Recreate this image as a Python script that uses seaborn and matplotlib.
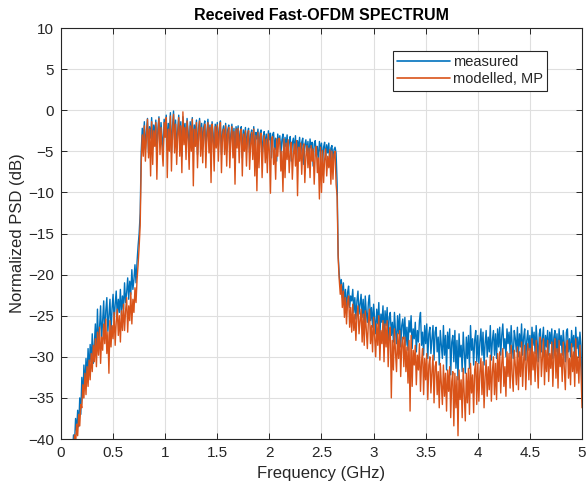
import numpy as np
import pandas as pd
import matplotlib
matplotlib.use("Agg")
import matplotlib.pyplot as plt
import seaborn as sns

measured = [
    -35.8, -48, -48, -48, -48, -48, -48, -48, -48, -48,
    -46, -42, -39.5, -40.5, -37.5, -39, -36.5, -38.5, -35, -37,
    -32.5, -35.0, -31.0, -33.8, -30.2, -32.6, -29.0, -31.8, -28.5, -30.6,
    -27.2, -30.8, -28.5, -26.0, -29.6, -24.2, -28.4, -26.5, -23.8, -27.9,
    -25.6, -23.2, -27.8, -24.4, -22.8, -26.9, -25.0, -23.0, -27.2, -24.1,
    -22.4, -25.8, -23.6, -22.0, -25.2, -23.0, -24.6, -21.8, -25.0, -22.6,
    -24.2, -21.0, -23.4, -22.2, -20.4, -23.0, -20.8, -22.4, -19.4, -21.8,
    -20.6, -18.8, -21.0, -18.4, -16.5, -15.0, -12.5, -5.0, -2.2, -3.6,
    -1.4, -4.8, -2.6, -1.0, -5.2, -2.0, -3.4, -0.9, -4.6, -1.8,
    -3.0, -1.2, -5.6, -2.2, -0.8, -4.0, -1.5, -3.2, -5.0, -1.1,
    -2.4, -0.6, -4.4, -1.6, -3.0, -0.3, -5.2, -2.0, -0.1, -3.6,
    -1.2, -4.8, -2.4, -0.6, -3.8, -1.4, -5.6, -0.8, -2.8, -1.6,
    -4.2, -1.0, -2.6, -5.0, -1.4, -3.4, -0.9, -4.6, -1.8, -2.9,
    -1.2, -5.4, -2.2, -1.0, -3.8, -1.6, -4.4, -2.0, -1.3, -5.0,
    -2.6, -1.1, -3.6, -1.8, -4.8, -1.4, -2.8, -5.2, -1.7, -3.0,
    -1.5, -4.4, -2.2, -1.3, -5.4, -2.6, -1.9, -3.8, -1.6, -4.9,
    -2.4, -1.8, -5.0, -2.9, -1.7, -4.2, -2.2, -5.6, -2.0, -3.2,
    -1.9, -4.6, -2.6, -2.0, -5.8, -2.4, -3.6, -2.1, -4.8, -2.8,
    -2.2, -5.2, -3.0, -2.4, -4.4, -2.0, -5.8, -2.7, -3.5, -2.3,
    -5.0, -2.8, -2.4, -6.0, -3.2, -2.6, -4.6, -2.9, -5.4, -2.5,
    -3.6, -2.8, -5.8, -3.0, -2.7, -4.8, -3.4, -6.2, -2.9, -4.0,
    -3.1, -5.4, -3.6, -2.9, -6.0, -3.3, -4.4, -3.0, -5.6, -3.8,
    -3.2, -6.2, -4.0, -3.4, -5.0, -3.1, -6.4, -3.7, -4.6, -3.3,
    -5.8, -3.9, -3.4, -6.6, -4.2, -3.6, -5.2, -3.8, -6.0, -3.5,
    -4.6, -3.9, -6.8, -4.1, -3.7, -5.6, -4.4, -6.4, -3.8, -5.0,
    -4.0, -6.6, -4.5, -3.9, -6.0, -4.2, -5.2, -4.0, -6.8, -4.6,
    -4.3, -6.2, -4.8, -4.5, -5.2, -9.0, -17.6, -20.0, -21.4, -20.6,
    -22.8, -21.0, -23.6, -21.8, -24.4, -22.2, -21.4, -24.0, -22.6, -23.2,
    -21.8, -24.6, -22.8, -25.4, -23.2, -22.0, -24.8, -23.6, -22.4, -25.2,
    -23.0, -26.2, -22.6, -24.6, -25.8, -23.4, -22.5, -25.6, -24.0, -26.4,
    -23.6, -25.4, -27.2, -24.2, -26.0, -23.4, -27.4, -24.8, -25.8, -23.8,
    -27.6, -24.4, -26.2, -24.0, -28.0, -25.2, -24.6, -27.4, -25.8, -28.2,
    -24.6, -26.8, -28.4, -25.0, -27.2, -24.8, -28.8, -26.2, -25.4, -27.8,
    -25.2, -28.6, -26.4, -29.2, -25.6, -27.0, -25.0, -29.0, -26.6, -27.8,
    -25.8, -29.4, -26.8, -28.2, -25.6, -24.6, -28.6, -27.0, -29.8, -26.2,
    -28.4, -26.0, -30.2, -27.2, -26.4, -29.6, -27.8, -26.2, -30.4, -27.0,
    -26.4, -29.4, -27.6, -31.0, -26.8, -28.6, -30.2, -26.2, -29.8, -27.4,
    -31.6, -27.0, -29.0, -26.6, -32.2, -28.2, -27.4, -30.6, -26.8, -31.4,
    -28.0, -32.8, -27.2, -30.0, -28.6, -31.8, -27.0, -29.4, -32.0, -27.6,
    -30.2, -27.4, -31.4, -26.2, -29.2, -27.8, -31.0, -28.0, -26.8, -30.6,
    -27.4, -30.8, -28.2, -26.6, -29.8, -27.0, -31.0, -28.4, -26.8, -30.0,
    -27.6, -29.4, -26.2, -30.4, -28.0, -26.8, -29.8, -27.2, -30.2, -26.6,
    -28.8, -26.4, -29.8, -27.4, -26.0, -29.0, -27.8, -30.0, -26.6, -28.4,
    -27.0, -29.6, -26.2, -28.6, -30.2, -26.8, -27.8, -29.4, -26.4, -30.0,
    -27.2, -28.8, -26.0, -29.8, -27.6, -26.6, -30.4, -28.0, -26.8, -29.2,
    -27.4, -30.0, -26.4, -28.6, -27.0, -29.6, -26.2, -28.2, -30.6, -27.2,
    -26.6, -29.4, -27.8, -26.4, -30.0, -27.4, -28.8, -26.8, -29.8, -27.0,
    -28.4, -26.6, -30.2, -27.6, -26.8, -29.4, -27.2, -30.4, -26.6, -28.6,
    -27.4, -29.8, -26.8, -28.4, -30.6, -27.0, -26.6, -29.4, -27.8, -30.0,
    -26.8, -28.8, -27.4, -30.2, -26.4, -29.0, -27.6, -30.0, -27.0, -28.6,
    -35.0,
]

modelled = [
    -48, -48, -48, -48, -48, -48, -48, -48, -48, -48,
    -48, -46, -42, -39.5, -40.8, -38.2, -39.6, -37.0, -38.4, -35.8,
    -36.2, -33.4, -35.0, -32.0, -34.6, -31.2, -33.6, -30.4, -32.8, -29.6,
    -31.8, -28.6, -30.6, -27.8, -31.2, -27.0, -29.8, -26.4, -30.8, -27.6,
    -29.2, -26.0, -28.4, -25.4, -29.6, -27.0, -32.0, -25.6, -28.8, -26.2,
    -27.8, -24.6, -28.6, -25.8, -24.2, -27.4, -25.0, -28.2, -24.4, -26.8,
    -23.6, -26.8, -24.4, -22.8, -27.0, -23.8, -25.6, -22.2, -26.0, -23.0,
    -24.6, -21.6, -23.4, -20.6, -18.8, -16.6, -14.0, -6.5, -3.0, -5.6,
    -1.9, -6.2, -3.3, -1.1, -5.8, -2.3, -8.0, -1.4, -6.6, -2.5,
    -4.4, -1.5, -8.4, -2.9, -1.0, -5.4, -2.1, -4.8, -6.8, -1.5,
    -3.3, -0.9, -8.2, -2.3, -5.0, -0.7, -7.4, -2.7, -0.5, -5.2,
    -1.7, -6.6, -3.1, -0.9, -5.6, -1.9, -7.6, -0.2, -4.2, -2.1,
    -6.0, -1.3, -3.5, -7.2, -1.9, -5.0, -1.1, -9.2, -2.3, -4.4,
    -1.5, -7.0, -2.9, -1.3, -5.6, -2.1, -6.4, -2.7, -1.7, -7.0,
    -3.3, -1.5, -5.2, -2.1, -8.8, -1.7, -3.5, -7.4, -2.0, -4.6,
    -1.8, -6.2, -2.7, -1.5, -7.6, -3.1, -2.3, -5.4, -1.9, -6.8,
    -2.9, -2.1, -7.0, -3.5, -2.0, -5.8, -2.6, -9.0, -2.3, -4.6,
    -2.2, -6.4, -3.1, -2.3, -8.0, -2.9, -5.0, -2.5, -6.8, -3.4,
    -2.5, -7.2, -4.2, -2.7, -6.0, -2.3, -8.0, -3.1, -9.8, -2.7,
    -7.0, -3.3, -2.8, -8.2, -4.4, -3.1, -6.4, -3.5, -7.6, -2.9,
    -5.0, -10.1, -3.5, -3.2, -6.6, -4.6, -8.4, -3.5, -5.6, -3.4,
    -3.8, -7.4, -5.0, -9.9, -3.5, -8.2, -4.0, -6.0, -3.6, -7.6,
    -5.2, -3.9, -8.4, -5.4, -4.1, -6.8, -3.7, -10.4, -4.5, -6.2,
    -4.0, -7.8, -4.7, -4.1, -8.8, -5.6, -4.3, -7.0, -4.6, -8.2,
    -4.3, -6.2, -4.7, -9.0, -5.4, -4.4, -7.6, -5.8, -10.8, -4.5,
    -10.0, -4.9, -8.8, -6.0, -4.7, -8.0, -5.6, -7.0, -4.8, -9.0,
    -5.0, -8.4, -5.4, -5.0, -9.0, -10.5, -18.0, -20.6, -22.4, -21.2,
    -24.0, -22.0, -25.2, -22.8, -26.0, -23.4, -22.6, -26.4, -24.0, -27.0,
    -23.6, -26.8, -24.8, -28.0, -25.0, -23.8, -27.2, -25.6, -24.2, -28.2,
    -24.8, -28.6, -24.4, -26.8, -29.0, -25.6, -24.2, -28.4, -26.2, -29.4,
    -25.2, -27.6, -30.0, -26.0, -28.6, -25.0, -30.4, -26.8, -28.4, -25.6,
    -30.6, -26.0, -28.8, -25.6, -31.2, -27.4, -26.4, -35.0, -28.0, -31.6,
    -26.6, -29.4, -31.8, -27.2, -30.2, -26.8, -32.4, -28.6, -27.6, -31.2,
    -27.6, -31.8, -28.8, -33.2, -28.0, -36.6, -27.4, -33.6, -29.2, -31.0,
    -28.6, -33.4, -29.8, -31.6, -28.4, -34.2, -30.6, -29.0, -34.6, -30.2,
    -32.8, -29.6, -35.2, -31.0, -30.0, -34.4, -31.8, -29.8, -35.6, -31.2,
    -30.6, -34.6, -31.8, -36.2, -30.8, -33.4, -35.8, -31.0, -34.8, -32.0,
    -36.6, -31.6, -34.2, -31.2, -37.4, -33.0, -31.8, -38.4, -32.0, -36.2,
    -32.4, -39.6, -31.6, -35.2, -32.8, -37.4, -31.4, -34.6, -37.8, -32.0,
    -35.6, -31.4, -37.0, -30.8, -34.4, -32.2, -36.8, -31.6, -30.6, -35.8,
    -30.8, -35.4, -31.8, -30.2, -34.6, -30.6, -36.2, -32.4, -30.4, -34.8,
    -31.2, -34.0, -29.8, -35.4, -31.8, -30.0, -34.6, -30.8, -35.2, -29.6,
    -33.0, -29.4, -34.4, -30.8, -29.0, -33.6, -31.2, -34.8, -29.4, -32.4,
    -29.6, -33.8, -28.6, -32.2, -34.2, -29.2, -31.0, -33.4, -28.8, -34.0,
    -29.4, -32.4, -28.2, -33.6, -30.4, -28.6, -34.0, -30.8, -28.4, -32.8,
    -29.0, -33.4, -27.8, -31.6, -29.4, -33.0, -28.0, -31.0, -33.8, -28.8,
    -27.6, -32.4, -30.0, -27.8, -33.4, -29.2, -31.8, -28.0, -33.0, -29.6,
    -31.4, -28.2, -33.6, -30.0, -27.8, -32.6, -29.0, -33.8, -28.0, -31.2,
    -29.6, -33.0, -28.2, -31.4, -34.0, -29.0, -28.0, -32.6, -30.2, -33.4,
    -28.4, -31.8, -29.4, -33.6, -27.8, -32.0, -30.0, -33.2, -28.6, -31.6,
    -36.2,
]

series_names = ["measured", "modelled, MP"]
x_ticks = [0, 0.5, 1, 1.5, 2, 2.5, 3, 3.5, 4, 4.5, 5]
x_tick_labels = ["0", "0.5", "1", "1.5", "2", "2.5", "3", "3.5", "4", "4.5", "5"]
y_ticks = [-40, -35, -30, -25, -20, -15, -10, -5, 0, 5, 10]

df = pd.concat([
    pd.DataFrame({"f": np.linspace(0, 5, len(measured)), "psd": measured, "series": series_names[0]}),
    pd.DataFrame({"f": np.linspace(0, 5, len(modelled)), "psd": modelled, "series": series_names[1]}),
], ignore_index=True)

sns.set_style("whitegrid")
plt.rcParams["font.family"] = ["Liberation Sans", "DejaVu Sans"]

fig = plt.figure(figsize=(5.87, 4.93), dpi=100)
ax = fig.add_axes([0.1039, 0.1095, 0.8876, 0.8337])

sns.lineplot(data=df, x="f", y="psd", hue="series", estimator=None, sort=False,
             palette=["#0072BD", "#D95319"], linewidth=1.0, ax=ax)

ax.set_xlim(0, 5)
ax.set_ylim(-40, 10)
ax.set_xticks(x_ticks)
ax.set_xticklabels(x_tick_labels)
ax.set_yticks(y_ticks)
ax.grid(True, color="#dfdfdf", linewidth=0.8)
ax.set_axisbelow(True)
for s in ax.spines.values():
    s.set_visible(True)
    s.set_color("#262626")
    s.set_linewidth(0.8)
ax.tick_params(axis="both", direction="in", length=4, width=0.7, color="#262626",
               labelsize=11, labelcolor="#262626", top=True, right=True, bottom=True, left=True, pad=5)

ax.set_xlabel("Frequency (GHz)", fontsize=12, color="#262626", labelpad=4)
ax.set_ylabel("Normalized PSD (dB)", fontsize=12, color="#262626", labelpad=2)
ax.set_title("Received Fast-OFDM SPECTRUM", fontsize=11.5, fontweight="bold", color="black", pad=6)

leg = ax.legend(loc="upper right", bbox_to_anchor=(0.933, 0.944), fontsize=10.5,
                frameon=True, fancybox=False, framealpha=1, edgecolor="#262626",
                handlelength=3.6, handletextpad=0.2, borderpad=0.3, labelspacing=0.2,
                borderaxespad=0)
leg.get_frame().set_linewidth(0.8)
for line in leg.get_lines():
    line.set_linewidth(1.2)

fig.savefig("out.png", dpi=100)
